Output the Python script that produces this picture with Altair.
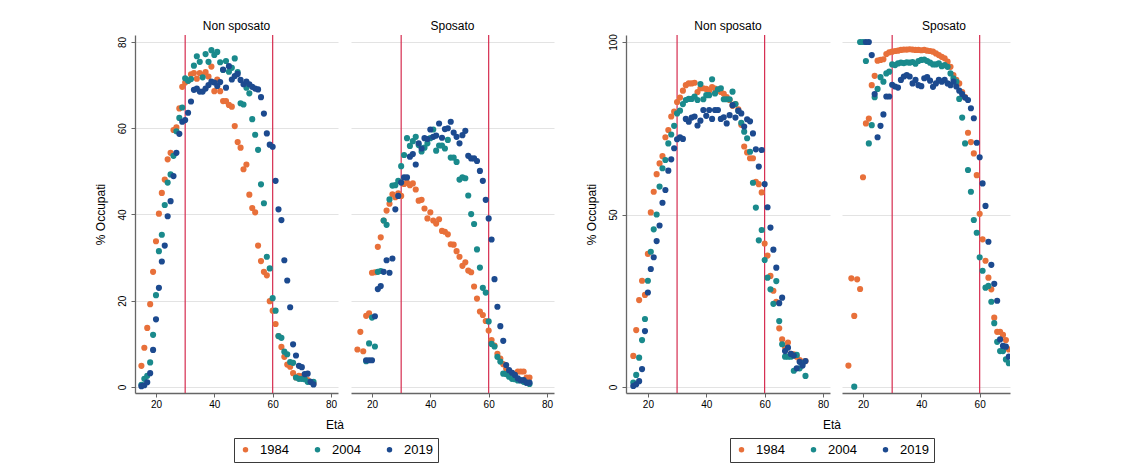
import altair as alt
import pandas as pd

FONT = "Liberation Sans"
AGES = list(range(15, 75))
YEARS = ["1984", "2004", "2019"]
PALETTE = ["#e8703a", "#1a8a8c", "#1c4a8f"]
REF_AGES = [30, 60]
RED = "#d62c4f"
GRID = "#e3e3e3"
AXIS = "#666666"
N = None

# ---- Left graph: Non sposato ----
L_NS_1984 = [4.9, 9.1, 13.7, 19.2, 26.7, 33.8, 40.2, 45.0, 48.1, 52.8, 54.3, 59.6, 60.2, 64.6, 69.6,
             70.6, 71.0, 72.5, 72.8, 71.5, 72.8, 72.3, 73.0, 72.0, 74.3, 68.6, 71.3, 68.6, 66.3, 66.3,
             65.4, 65.0, 60.5, 56.8, 55.5, 50.5, 51.6, 44.6, 41.5, 40.5, 32.8, 29.2, 26.7, 25.9, 19.9,
             17.7, 14.6, 11.8, 9.3, 7.0, 5.2, 4.7, 3.2, 2.2, 2.6, 2.5, 2.0, 1.6, 1.2, 0.8]
L_NS_2004 = [0.5, 1.9, 2.6, 5.7, 12.1, 21.3, 31.5, 35.3, 42.2, 47.4, 49.3, 53.6, 59.3, 62.4, 64.8,
             71.6, 71.0, 71.4, 74.5, 76.7, 75.4, 71.8, 77.2, 75.4, 78.1, 77.0, 77.7, 75.3, 73.5, 75.6,
             73.1, 74.0, 76.2, 73.0, 65.8, 65.5, 69.4, 68.1, 62.1, 58.5, 55.0, 47.0, 42.6, 30.2, 27.5,
             20.6, 17.7, 11.8, 11.4, 8.2, 7.6, 5.8, 5.6, 2.2, 1.9, 1.9, 1.8, 1.2, 1.2, 1.2]
L_NS_2019 = [0.2, 0.4, 1.1, 3.2, 8.6, 15.7, 23.0, 29.1, 32.8, 39.6, 43.1, 48.9, 54.3, 58.7, 61.5,
             61.9, 63.6, 66.2, 68.9, 69.2, 68.5, 68.5, 69.2, 70.0, 70.8, 70.6, 69.8, 70.7, 73.6, 69.4,
             74.4, 71.3, 72.1, 72.6, 71.2, 70.2, 70.8, 70.2, 69.6, 69.2, 69.0, 67.2, 63.4, 58.8, 56.2,
             55.7, 47.8, 41.2, 38.7, 29.4, 24.7, 18.5, 9.9, 7.3, 4.9, 4.6, 3.0, 3.1, 1.2, 0.6]

# ---- Left graph: Sposato ----
L_S_1984 = [8.7, 12.8, 8.3, 16.5, 17.1, 26.5, 26.6, 32.5, 34.7, 38.6, 40.9, 42.5, 44.7, 44.0, 44.9,
            44.3, 47.1, 47.4, 46.8, 47.2, 45.8, 43.2, 43.4, 41.4, 39.1, 40.5, 38.6, 37.9, 38.9, 36.2,
            36.0, 35.4, 33.1, 33.0, 31.5, 30.2, 28.1, 28.9, 27.0, 26.6, 23.3, 20.5, 17.5, 16.7, 15.3,
            13.1, 10.9, 9.6, 7.7, 6.6, 5.3, 4.3, 3.6, 3.3, 2.8, 3.6, 3.6, 3.6, 2.2, 2.2]
L_S_2004 = [N, N, N, 6.0, 10.1, 16.1, 9.4, 26.7, 26.9, 38.6, 37.6, 43.5, 46.7, 46.8, 47.8,
            51.2, 53.8, 57.7, 55.9, 57.0, 58.0, 56.1, 54.6, 55.5, 56.5, 57.7, 59.7, 54.8, 56.0, 56.0,
            55.3, 57.3, 53.2, 53.2, 52.2, 48.1, 48.6, 48.4, 44.4, 40.1, 37.8, 31.9, 27.7, 23.0, 21.9,
            15.2, 10.0, 9.4, 7.0, 5.9, 3.1, 3.0, 2.4, 1.9, 1.8, 1.5, 1.6, 1.2, 1.0, 0.7]
L_S_2019 = [N, N, N, 6.2, 6.2, 6.2, 16.4, 22.7, 23.4, 26.7, 29.4, 26.5, 29.8, 41.2, 44.3,
            47.4, 48.6, 48.6, 53.4, 54.0, 51.6, 56.5, 55.3, 57.7, 57.5, 59.7, 58.0, 58.3, 61.1, 57.8,
            59.8, 60.0, 61.5, 59.0, 58.0, 56.5, 58.4, 59.4, 53.6, 53.0, 53.0, 52.4, 50.1, 47.8, 43.4,
            39.1, 34.2, 25.0, 18.6, 14.1, 10.7, 5.1, 3.9, 3.3, 2.8, 2.0, 1.5, 1.6, 1.0, 1.0]

# ---- Right graph: Non sposato ----
R_NS_1984 = [9.0, 16.5, 25.2, 30.8, 26.7, 38.6, 50.6, 56.6, 61.7, 64.8, 66.9, 72.4, 74.5, 78.4, 79.8,
             82.6, 83.9, 85.9, 87.5, 88.0, 88.0, 88.2, 85.5, 86.6, 86.6, 86.4, 85.9, 86.9, 86.5, 86.0,
             85.5, 85.0, 84.0, 83.2, 81.5, 82.0, 80.5, 76.0, 69.7, 68.0, 66.3, 66.3, 59.5, 58.8, 56.4,
             41.6, 38.1, 32.2, 27.9, 24.7, 17.0, 13.8, 11.5, 12.9, 9.6, 9.5, 8.8, 7.8, 7.3, 7.5]
R_NS_2004 = [1.3, 3.5, 8.5, 13.6, 19.7, 30.8, 39.2, 45.7, 50.0, 58.1, 63.4, 65.8, 70.6, 73.2, 75.7,
             79.3, 80.1, 82.0, 83.2, 83.5, 83.5, 84.2, 83.2, 87.8, 83.4, 84.6, 84.6, 89.2, 85.1, 86.3,
             86.6, 83.4, 83.4, 83.4, 85.6, 82.0, 80.0, 76.6, 74.0, 72.1, 68.2, 59.2, 52.0, 42.5, 45.5,
             36.8, 31.7, 28.3, 24.1, 30.7, 19.1, 12.4, 8.8, 8.8, 8.8, 4.7, 9.3, 5.4, 6.9, 3.2]
R_NS_2019 = [0.3, 0.8, 1.7, 5.2, 16.2, 27.4, 34.2, 37.6, 42.3, 46.8, 53.4, 57.1, 62.7, 66.0, 69.2,
             71.8, 72.4, 71.9, 77.7, 76.9, 78.1, 78.4, 75.8, 77.2, 80.3, 78.6, 80.3, 77.7, 80.3, 80.3,
             77.7, 78.2, 76.4, 78.8, 81.7, 78.1, 80.1, 79.3, 75.5, 77.6, 77.0, 73.5, 68.9, 63.9, 68.7,
             58.8, 52.1, 46.2, 39.8, 34.6, 24.3, 25.9, 10.4, 11.4, 9.6, 9.1, 5.4, 7.3, 6.2, 7.5]

# ---- Right graph: Sposato (panel cut at about age 70) ----
R_S_1984 = [6.2, 31.5, 20.6, 31.2, 28.4, 60.8, 76.4, 77.8, 87.5, 90.2, 94.6, 94.8, 95.0, 96.5, 97.0,
            97.2, 97.4, 97.5, 97.7, 97.8, 97.8, 97.9, 97.8, 97.7, 97.7, 97.6, 97.7, 97.5, 97.4, 97.2,
            96.7, 96.2, 95.7, 95.3, 94.3, 92.8, 90.4, 89.0, 88.0, 85.5, 84.0, 73.7, 71.0, 67.7, 61.4,
            50.2, 42.8, 36.6, 31.7, 28.3, 20.1, 16.0, 16.0, 15.1, 13.6, 10.9, N, N, N, N]
R_S_2004 = [N, N, 0.1, N, 100.0, 100.0, 94.5, 70.6, 75.9, 84.0, 86.4, 89.8, 88.5, 90.9, 91.4,
            93.5, 93.3, 93.8, 94.0, 93.9, 94.1, 94.0, 94.2, 93.7, 94.5, 94.8, 94.9, 94.5, 94.0, 93.5,
            93.5, 93.8, 93.0, 93.3, 92.8, 90.9, 89.5, 88.5, 83.5, 78.1, 70.6, 62.9, 56.6, 48.4, 44.7,
            37.6, 33.7, 28.8, 29.3, 24.7, 18.5, 13.1, 10.4, 10.4, 8.0, 6.9, N, N, N, N]
R_S_2019 = [N, N, N, N, N, N, 100.0, 100.0, 96.2, 84.9, 72.4, 75.7, 79.0, 84.2, 84.2,
            87.6, 87.1, 86.8, 89.0, 90.0, 90.4, 90.0, 88.0, 89.0, 87.5, 87.2, 89.5, 89.8, 88.8, 87.0,
            88.0, 89.0, 88.5, 89.0, 88.0, 87.5, 88.5, 87.1, 85.9, 84.9, 83.9, 83.2, 80.8, 77.9, 70.8,
            66.6, 59.0, 52.5, 42.1, 35.4, 29.9, 25.0, 13.8, 11.9, 11.7, 8.8, N, N, N, N]


def frame(series):
    rows = []
    for year, vals in zip(YEARS, series):
        for age, v in zip(AGES, vals):
            if v is not None:
                rows.append({"age": age, "value": v, "year": year})
    return pd.DataFrame(rows)


REF = pd.DataFrame({"age": REF_AGES})
HEIGHT = 358
COLOR_SCALE = alt.Scale(domain=YEARS, range=PALETTE)


def panel(data, title, x_domain, x_ticks, width, y_domain, y_ticks, first, title_dx=0):
    x_enc = alt.X("age:Q", scale=alt.Scale(domain=x_domain, nice=False, zero=False),
                  axis=alt.Axis(values=x_ticks, grid=False, tickSize=4, labelPadding=2,
                                labelFontSize=10, labelFont=FONT, labelColor="black",
                                domainColor=AXIS, tickColor=AXIS, domainWidth=1.3,
                                tickWidth=1, title=None))
    if first:
        y_axis = alt.Axis(values=y_ticks, grid=True, gridColor=GRID, tickSize=4,
                          labelAngle=270, labelAlign="center", labelBaseline="bottom",
                          labelPadding=4, labelFontSize=10, labelFont=FONT, labelColor="black",
                          domainColor=AXIS, tickColor=AXIS, domainWidth=1.3,
                          minExtent=18, maxExtent=18, titlePadding=10,
                          title="% Occupati", titleFontSize=12,
                          titleFontWeight="normal", titleFont=FONT, titleColor="black")
    else:
        y_axis = alt.Axis(values=y_ticks, grid=True, gridColor=GRID, labels=False,
                          ticks=False, domain=False, title=None, minExtent=0, maxExtent=0)
    y_enc = alt.Y("value:Q", scale=alt.Scale(domain=y_domain, nice=False, zero=False),
                  axis=y_axis)
    color = alt.Color("year:N", scale=COLOR_SCALE, legend=None)

    rules = alt.Chart(REF).mark_rule(color=RED, strokeWidth=1.2).encode(x=x_enc)
    pts = alt.Chart(data).mark_circle(size=38, opacity=1, clip=True).encode(
        x=x_enc, y=y_enc, color=color,
        order=alt.Order("year:N", sort="ascending"))
    return alt.layer(rules, pts).properties(
        width=width, height=HEIGHT,
        title=alt.TitleParams(title, fontSize=12, fontWeight="normal", font=FONT,
                              offset=1, anchor="middle", color="black", frame="group",
                              dx=title_dx))


def legend_strip(width, legend_x):
    legend = alt.Legend(orient="none", legendX=legend_x, legendY=4,
                        direction="horizontal", title=None, strokeColor="#3a3a3a",
                        fillColor="white", padding=5, symbolType="circle",
                        symbolSize=30, symbolStrokeWidth=0, symbolOpacity=1,
                        labelFontSize=13, labelFont=FONT, labelColor="black",
                        labelOffset=8, columnPadding=22)
    return alt.Chart(pd.DataFrame({"year": YEARS})).mark_circle(size=0, opacity=0).encode(
        color=alt.Color("year:N", scale=COLOR_SCALE, legend=legend)
    ).properties(width=width, height=10,
                 title=alt.TitleParams("Età", fontSize=12, fontWeight="normal", font=FONT,
                                       offset=2, anchor="middle", color="black"))


def indep(c):
    return c.resolve_scale(x="independent", y="independent", color="independent").resolve_legend(
        color="independent")


LEFT_Y = [-1.39, 81.62]
RIGHT_Y = [-1.74, 102.03]

A = panel(frame([L_NS_1984, L_NS_2004, L_NS_2019]), "Non sposato", [12.8, 82.4],
          [20, 40, 60, 80], 203, LEFT_Y, [0, 20, 40, 60, 80], True)
B = panel(frame([L_S_1984, L_S_2004, L_S_2019]), "Sposato", [12.8, 82.4],
          [20, 40, 60, 80], 203, LEFT_Y, [0, 20, 40, 60, 80], False)
C = panel(frame([R_NS_1984, R_NS_2004, R_NS_2019]), "Non sposato", [12.5, 82.4],
          [20, 40, 60, 80], 204, RIGHT_Y, [0, 50, 100], True)
D = panel(frame([R_S_1984, R_S_2004, R_S_2019]), "Sposato", [12.8, 70.4],
          [20, 40, 60], 168, RIGHT_Y, [0, 50, 100], False, title_dx=18)

left = indep(alt.vconcat(indep(alt.hconcat(A, B, spacing=13)),
                         legend_strip(400, 99), spacing=10))
right = indep(alt.vconcat(indep(alt.hconcat(C, D, spacing=12)),
                          legend_strip(412, 104), spacing=10))

chart = indep(alt.hconcat(left, right, spacing=31)).properties(
    padding={"left": 86, "top": 11, "right": 5, "bottom": 5},
    background="white").configure(font=FONT).configure_view(stroke=None)

chart.save("out.html", embed_options={"renderer": "svg", "actions": False})
